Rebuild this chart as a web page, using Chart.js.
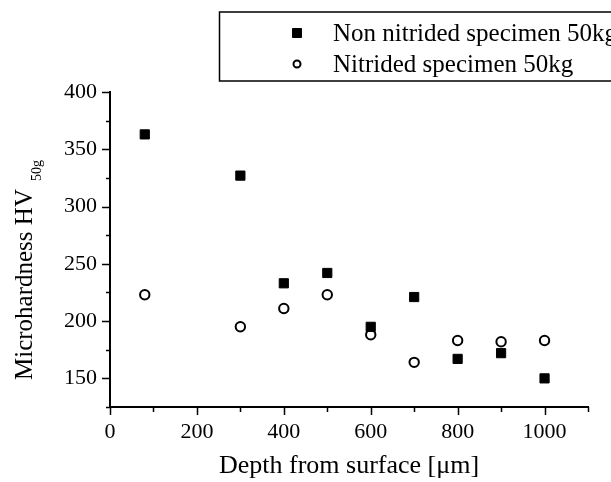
<!DOCTYPE html>
<html>
<head>
<meta charset="utf-8">
<script src="https://cdn.jsdelivr.net/npm/chart.js@4"></script>
<style>
  html, body { margin: 0; padding: 0; background: #fff; }
  #wrap { width: 611px; height: 482px; }
</style>
</head>
<body>
<div id="wrap"><canvas id="myChart" width="611" height="482"></canvas></div>
<script>
// values
const depths = [80, 300, 400, 500, 600, 700, 800, 900, 1000];
const nonNitrided = [363, 327, 233, 242, 195, 221, 167, 172, 150];
const nitrided = [223, 195, 211, 223, 188, 164, 183, 182, 183];
const seriesNames = ['Non nitrided specimen 50kg', 'Nitrided specimen 50kg'];
const xTitle = 'Depth from surface [\u03bcm]';
const yTitle = 'Microhardness HV';
const ySub = '50g';

const serif = "'Liberation Serif', 'Times New Roman', serif";

function toPoints(xs, ys) {
    return xs.map((x, i) => ({ x: x, y: ys[i] }));
}

// tick marks: long on labelled values, short in between
const tickMarks = {
    id: 'tickMarks',
    afterDraw(chart) {
        const c = chart.ctx;
        const xs = chart.scales.x;
        const ys = chart.scales.y;
        const area = chart.chartArea;
        c.save();
        c.strokeStyle = '#000';
        c.lineWidth = 1.5;
        c.beginPath();
        xs.ticks.forEach(t => {
            const px = Math.round(xs.getPixelForValue(t.value)) + 0.5;
            const len = t.value % 200 === 0 ? 8 : 5;
            c.moveTo(px, area.bottom);
            c.lineTo(px, area.bottom + len);
        });
        ys.ticks.forEach(t => {
            const py = Math.round(ys.getPixelForValue(t.value)) + 0.5;
            const len = t.value % 50 === 0 ? 8 : 4;
            c.moveTo(area.left, py);
            c.lineTo(area.left - len, py);
        });
        c.stroke();
        c.restore();
    }
};

const legendBox = {
    id: 'legendBox',
    afterDraw(chart) {
        const c = chart.ctx;
        c.save();
        c.lineWidth = 1.5;
        c.strokeStyle = '#000';
        c.strokeRect(219.5, 12, 400, 69);
        c.font = '25px ' + serif;
        c.textBaseline = 'middle';
        const rows = [33, 64];
        chart.data.datasets.forEach((ds, i) => {
            c.fillStyle = ds.backgroundColor;
            c.strokeStyle = ds.borderColor;
            c.lineWidth = ds.borderWidth;
            c.beginPath();
            if (ds.pointStyle == 'rect') {
                c.rect(292.5, rows[i] - 4.5, 9, 9);
            } else {
                c.arc(297, rows[i], 3.5, 0, Math.PI * 2);
            }
            c.fill();
            c.stroke();
            c.fillStyle = '#000';
            c.fillText(ds.label, 333, rows[i] + 1);
        });
        c.restore();
    }
};

const yLabel = {
    id: 'yLabel',
    afterDraw(chart) {
        const c = chart.ctx;
        c.save();
        c.translate(32, 380);
        c.rotate(-Math.PI / 2);
        c.fillStyle = '#000';
        c.font = '25px ' + serif;
        c.textAlign = 'left';
        c.textBaseline = 'alphabetic';
        c.fillText(yTitle, 0, 0);
        const w = c.measureText(yTitle).width;
        c.font = '14px ' + serif;
        c.fillText(ySub, w + 8, 9);
        c.restore();
    }
};

new Chart('myChart', {
    type: 'scatter',
    data: {
        datasets: [{
            label: seriesNames[0],
            data: toPoints(depths, nonNitrided),
            pointStyle: 'rect',
            pointRadius: 6.5,
            pointHoverRadius: 6.5,
            backgroundColor: '#000',
            borderColor: '#000',
            borderWidth: 1
        }, {
            label: seriesNames[1],
            data: toPoints(depths, nitrided),
            pointStyle: 'circle',
            pointRadius: 4.7,
            pointHoverRadius: 4.7,
            backgroundColor: '#fff',
            borderColor: '#000',
            borderWidth: 2
        }]
    },
    options: {
        responsive: false,
        animation: false,
        layout: { padding: { left: 0, top: 92, right: 23, bottom: 0 } },
        plugins: {
            legend: { display: false },
            tooltip: { enabled: false }
        },
        scales: {
            x: {
                type: 'linear',
                min: 0,
                max: 1100,
                afterFit: function (scale) { scale.height = 75; },
                border: { color: '#000', width: 2 },
                grid: {
                    drawOnChartArea: false,
                    tickLength: 8,
                    tickColor: 'rgba(0,0,0,0)'
                },
                ticks: {
                    stepSize: 100,
                    autoSkip: false,
                    maxRotation: 0,
                    padding: 4,
                    color: '#000',
                    font: { family: serif, size: 22 },
                    callback: function (v) { return v % 200 === 0 ? v : ''; }
                },
                title: {
                    display: true,
                    text: xTitle,
                    color: '#000',
                    font: { family: serif, size: 26 },
                    padding: { top: 4, bottom: 0 }
                }
            },
            y: {
                type: 'linear',
                min: 125,
                max: 400,
                afterFit: function (scale) { scale.width = 110; },
                border: { color: '#000', width: 2 },
                grid: {
                    drawOnChartArea: false,
                    tickLength: 8,
                    tickColor: 'rgba(0,0,0,0)'
                },
                ticks: {
                    stepSize: 25,
                    autoSkip: false,
                    padding: 5,
                    color: '#000',
                    font: { family: serif, size: 22 },
                    callback: function (v) { return v % 50 === 0 ? v : ''; }
                }
            }
        }
    },
    plugins: [tickMarks, legendBox, yLabel]
});
</script>
</body>
</html>
